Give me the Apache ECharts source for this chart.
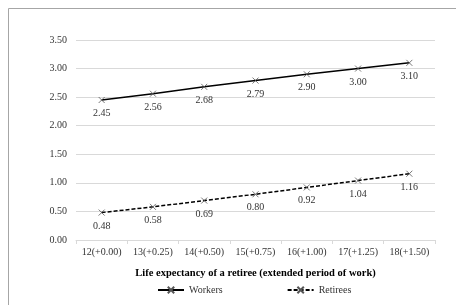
<!DOCTYPE html>
<html>
<head>
<meta charset="utf-8">
<script src="https://cdn.jsdelivr.net/npm/echarts@6/dist/echarts.min.js"></script>
<style>
  html, body { margin: 0; padding: 0; background: #fff; }
  #chart { width: 456px; height: 305px; }
</style>
</head>
<body>
<div id="chart"></div>
<script>
// data
var categories = ['12(+0.00)', '13(+0.25)', '14(+0.50)', '15(+0.75)', '16(+1.00)', '17(+1.25)', '18(+1.50)']
var workers = [2.45, 2.56, 2.68, 2.79, 2.90, 3.00, 3.10]
var retirees = [0.48, 0.58, 0.69, 0.80, 0.92, 1.04, 1.16]

var font = '"Liberation Serif", "Times New Roman", serif'
var cross = 'path://M0,0L10,10M10,0L0,10'

var myChart = echarts.init(document.getElementById('chart'))

var option = {
  animation: false,
  textStyle: { fontFamily: font },
  // outer frame
  graphic: [{
    type: 'rect',
    shape: { x: 8.5, y: 8.5, width: 470, height: 320 },
    style: { fill: 'none', stroke: '#a6a6a6', lineWidth: 1 },
    silent: true
  }],
  grid: { left: 76, right: 21, top: 40, bottom: 65 },
  legend: {
    bottom: 5,
    left: 152,
    itemWidth: 26,
    itemHeight: 8,
    itemGap: 64,
    textStyle: { fontFamily: font, fontSize: 10, color: '#333' },
    data: ['Workers', 'Retirees']
  },
  xAxis: {
    type: 'category',
    data: categories,
    boundaryGap: true,
    name: 'Life expectancy of a retiree (extended period of work)',
    nameLocation: 'middle',
    nameGap: 28,
    nameTextStyle: { fontFamily: font, fontSize: 10.5, fontWeight: 'bold', color: '#000' },
    axisLine: { lineStyle: { color: '#d9d9d9' } },
    axisTick: { show: true, length: 4, lineStyle: { color: '#d9d9d9' } },
    axisLabel: { fontFamily: font, fontSize: 10, color: '#333', margin: 7, interval: 0 }
  },
  yAxis: {
    type: 'value',
    min: 0,
    max: 3.5,
    interval: 0.5,
    axisLine: { show: false },
    axisTick: { show: false },
    splitLine: { lineStyle: { color: '#d9d9d9' } },
    axisLabel: {
      fontFamily: font, fontSize: 10, color: '#333', margin: 9,
      formatter: function (v) { return v.toFixed(2) }
    }
  },
  series: [
    {
      name: 'Workers',
      type: 'line',
      data: workers,
      symbol: cross,
      symbolSize: 6,
      lineStyle: { color: '#000', width: 1.5 },
      itemStyle: { color: '#000', borderColor: '#555', borderWidth: 0.8 },
      label: {
        show: true, position: 'bottom', distance: 5,
        fontFamily: font, fontSize: 10, color: '#333',
        formatter: function (p) { return p.value.toFixed(2) }
      }
    },
    {
      name: 'Retirees',
      type: 'line',
      data: retirees,
      symbol: cross,
      symbolSize: 6,
      lineStyle: { color: '#000', width: 1.5, type: [4, 2] },
      itemStyle: { color: '#000', borderColor: '#555', borderWidth: 0.8 },
      label: {
        show: true, position: 'bottom', distance: 5,
        fontFamily: font, fontSize: 10, color: '#333',
        formatter: function (p) { return p.value.toFixed(2) }
      }
    }
  ]
}

myChart.setOption(option)
</script>
</body>
</html>
